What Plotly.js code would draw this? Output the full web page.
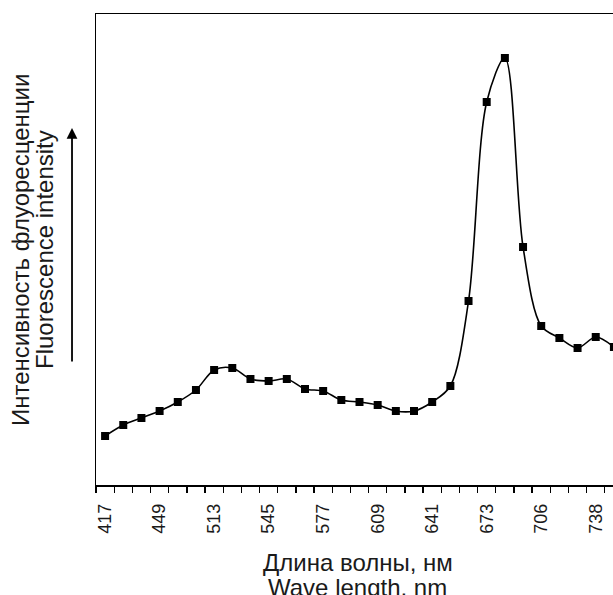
<!DOCTYPE html>
<html>
<head>
<meta charset="utf-8">
<script src="https://cdn.plot.ly/plotly-3.0.1.min.js"></script>
<style>html,body{margin:0;padding:0;background:#fff;}#chart{width:613px;height:595px;}</style>
</head>
<body>
<div id="chart"></div>
<script>
// Tick labels (wavelength, nm) shown under every third measurement point
const tickLabels = ['417', '449', '513', '545', '577', '609', '641', '673', '706', '738'];
// Fluorescence intensity (arbitrary units), one value per measurement point
const intensity = [49, 60, 67, 74, 83, 95, 115, 117, 106, 104, 106, 96, 94, 85,
                   83, 80, 74, 74, 83, 99, 184, 383, 427, 238, 159, 147, 137, 148, 138];
const labelStep = 3;

const xIdx = intensity.map((_, i) => i);
const tickVals = tickLabels.map((_, k) => k * labelStep);

const FONT = '"Liberation Sans", Arial, sans-serif';
const TXT = '#1a1a1a';

const trace = {
  x: xIdx,
  y: intensity,
  type: 'scatter',
  mode: 'lines+markers',
  line: {color: '#000', width: 1.6, shape: 'spline', smoothing: 0.9},
  marker: {symbol: 'square', size: 8, color: '#000'},
  hoverinfo: 'skip'
};

const layout = {
  width: 613, height: 595,
  margin: {l: 96, r: 0, t: 14, b: 110},
  paper_bgcolor: '#fff', plot_bgcolor: '#fff',
  showlegend: false,
  font: {family: FONT, color: TXT},
  xaxis: {
    range: [-0.5, 27.95],
    showgrid: false, zeroline: false,
    showline: true, linecolor: '#000', linewidth: 1.5, mirror: true,
    tickmode: 'array', tickvals: tickVals, ticktext: tickLabels,
    ticks: 'outside', ticklen: 6, tickcolor: 'rgba(0,0,0,0)',
    tickangle: -90,
    tickfont: {family: FONT, size: 18, color: TXT},
    ticklabelstandoff: 4,
    minor: {tick0: 0.5, dtick: 1, ticks: 'outside', ticklen: 6, tickwidth: 1.3, tickcolor: '#000', showgrid: false}
  },
  yaxis: {
    range: [0, 471],
    showgrid: false, zeroline: false,
    showline: true, linecolor: '#000', linewidth: 1.5,
    ticks: '', showticklabels: false
  },
  annotations: [
    {text: 'Длина волны, нм', xref: 'paper', yref: 'paper', x: 0.506, y: -0.1656,
     xanchor: 'center', yanchor: 'middle', showarrow: false, font: {size: 24, color: TXT, family: FONT}},
    {text: 'Wave length, nm', xref: 'paper', yref: 'paper', x: 0.506, y: -0.2166,
     xanchor: 'center', yanchor: 'middle', showarrow: false, font: {size: 24, color: TXT, family: FONT}},
    {text: 'Интенсивность флуоресценции', xref: 'paper', yref: 'paper', x: -0.145, y: 0.499,
     xanchor: 'center', yanchor: 'middle', textangle: -90, showarrow: false, font: {size: 24, color: TXT, family: FONT}},
    {text: 'Fluorescence intensity', xref: 'paper', yref: 'paper', x: -0.0986, y: 0.499,
     xanchor: 'center', yanchor: 'middle', textangle: -90, showarrow: false, font: {size: 24, color: TXT, family: FONT}},
    {text: '', xref: 'paper', yref: 'paper', x: -0.0464, y: 0.758,
     showarrow: true, ax: 0, ay: 235, axref: 'pixel', ayref: 'pixel',
     arrowhead: 2, arrowsize: 1.2, arrowwidth: 1.8, arrowcolor: '#000', standoff: 0, startstandoff: 0}
  ]
};

Plotly.newPlot('chart', [trace], layout, {displayModeBar: false, staticPlot: true});
</script>
</body>
</html>
